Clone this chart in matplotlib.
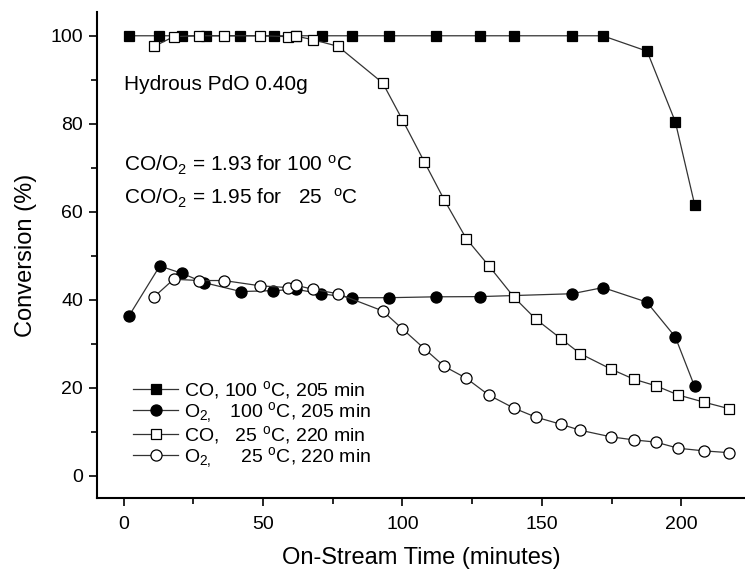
import matplotlib
matplotlib.use('Agg')
import matplotlib.pyplot as plt

plt.rcParams['font.family'] = ['Liberation Sans', 'DejaVu Sans']
plt.rcParams['mathtext.fontset'] = 'custom'
plt.rcParams['mathtext.rm'] = 'Liberation Sans'
plt.rcParams['mathtext.it'] = 'Liberation Sans:italic'

# CO and O2 conversion at 100 C (205 min run)
t_100 = [2.1, 12.8, 21.1, 29.6, 41.9, 53.8, 62.0, 71.0, 82.0, 95.0, 111.9,
         127.8, 139.9, 160.8, 171.8, 187.7, 197.8, 204.8]
co_100 = [100, 100, 100, 100, 100, 100, 100, 100, 100, 100, 100,
          100, 100, 100, 100, 96.5, 80.5, 61.5]

t_o2_100 = [2.0, 13.0, 21.1, 29.0, 42.1, 53.7, 61.9, 70.8, 81.9, 95.0, 111.9,
            127.8, 160.8, 171.9, 187.6, 197.8, 204.7]
o2_100 = [36.4, 47.7, 46.0, 43.9, 41.9, 42.1, 42.4, 41.4, 40.5, 40.5, 40.7,
          40.75, 41.4, 42.8, 39.5, 31.6, 20.4]

# CO and O2 conversion at 25 C (220 min run)
t_25 = [11.0, 18.0, 27.0, 36.0, 49.0, 59.0, 62.0, 68.0, 76.9, 92.9, 100.0,
        107.9, 115.0, 122.9, 130.9, 140.0, 147.7, 156.8, 163.7, 174.7, 182.9,
        190.8, 198.9, 208.2, 217.0]
co_25 = [97.6, 99.8, 100, 100, 100, 99.8, 99.9, 99.1, 97.6, 89.3, 80.9,
         71.3, 62.7, 53.9, 47.8, 40.6, 35.7, 31.2, 27.8, 24.3, 22.0,
         20.5, 18.4, 16.75, 15.3]
o2_25 = [40.7, 44.7, 44.4, 44.4, 43.2, 42.8, 43.3, 42.4, 41.4, 37.5, 33.4,
         28.9, 24.9, 22.2, 18.4, 15.4, 13.4, 11.75, 10.4, 8.9, 8.2,
         7.7, 6.3, 5.7, 5.3]

labels = [r'CO, 100 $^\mathrm{o}$C, 205 min',
          r'O$_{2,}$   100 $^\mathrm{o}$C, 205 min',
          r'CO,   25 $^\mathrm{o}$C, 220 min',
          r'O$_{2,}$     25 $^\mathrm{o}$C, 220 min']

fig = plt.figure(figsize=(7.45, 5.72), dpi=100)
ax = fig.add_axes([97/745, 74/572, 1 - 97/745, 486/572])

line_kw = dict(color='#333333', lw=0.9, markeredgecolor='black', markeredgewidth=0.9)
ax.plot(t_100, co_100, marker='s', ms=7, mfc='black', label=labels[0], **line_kw)
ax.plot(t_o2_100, o2_100, marker='o', ms=8, mfc='black', label=labels[1], **line_kw)
ax.plot(t_25, co_25, marker='s', ms=7, mfc='white', label=labels[2], **line_kw)
ax.plot(t_25, o2_25, marker='o', ms=8, mfc='white', label=labels[3], **line_kw)

ax.set_xlim(-9.5, 222.8)
ax.set_ylim(-5, 105.4)
ax.set_xticks([0, 50, 100, 150, 200])
ax.set_xticks([25, 75, 125, 175], minor=True)
ax.set_yticks([0, 20, 40, 60, 80, 100])
ax.set_yticks([10, 30, 50, 70, 90], minor=True)
ax.tick_params(which='major', direction='out', length=6, width=1.2, labelsize=14)
ax.tick_params(axis='x', which='major', pad=7)
ax.tick_params(axis='y', which='major', pad=4)
ax.tick_params(which='minor', direction='out', length=4, width=1.2)

for side in ('top', 'right'):
    ax.spines[side].set_visible(False)
for side in ('left', 'bottom'):
    ax.spines[side].set_linewidth(1.5)

ax.set_xlabel('On-Stream Time (minutes)', fontsize=17, labelpad=10)
ax.set_ylabel('Conversion (%)', fontsize=17, labelpad=10)

ax.text(0.0, 89, 'Hydrous PdO 0.40g', fontsize=15, va='center')
ax.text(0.0, 70.5, r'CO/O$_2$ = 1.93 for 100 $^\mathrm{o}$C', fontsize=15, va='center')
ax.text(0.0, 63, r'CO/O$_2$ = 1.95 for   25  $^\mathrm{o}$C', fontsize=15, va='center')

ax.legend(loc='lower left', bbox_to_anchor=(0.056, 0.058), frameon=False, fontsize=14,
          handlelength=2.3, handletextpad=0.3, labelspacing=-0.05, borderpad=0,
          borderaxespad=0)

fig.savefig('out.png', dpi=100)
